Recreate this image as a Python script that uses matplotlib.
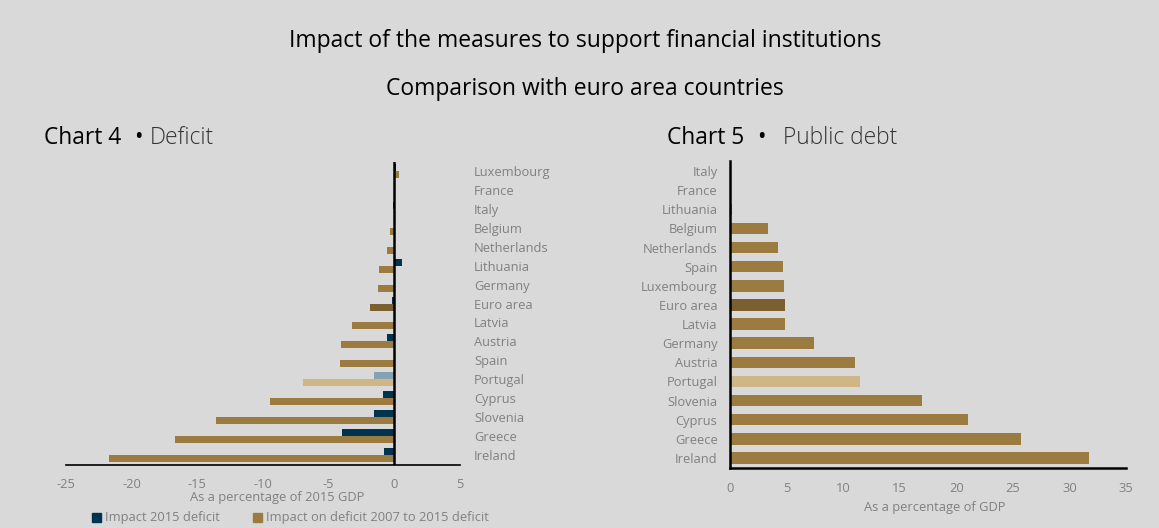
import matplotlib.pyplot as plt
import numpy as np

plt.rcParams['font.family'] = ['Open Sans', 'DejaVu Sans']
plt.rcParams['axes.unicode_minus'] = False

# Chart 4 - deficit (top to bottom)
deficit_countries = ["Luxembourg", "France", "Italy", "Belgium", "Netherlands", "Lithuania",
                     "Germany", "Euro area", "Latvia", "Austria", "Spain", "Portugal",
                     "Cyprus", "Slovenia", "Greece", "Ireland"]
impact_2015 = [0.1, 0.0, -0.1, 0.0, 0.05, 0.58, 0.0, -0.15, 0.0, -0.58, 0.0, -1.55,
               -0.86, -1.52, -4.01, -0.79]
impact_2007_2015 = [0.35, 0.0, 0.0, -0.35, -0.55, -1.17, -1.22, -1.85, -3.25, -4.04, -4.14,
                    -6.96, -9.45, -13.6, -16.7, -21.7]

# Chart 5 - public debt (top to bottom)
debt_countries = ["Italy", "France", "Lithuania", "Belgium", "Netherlands", "Spain",
                  "Luxembourg", "Euro area", "Latvia", "Germany", "Austria", "Portugal",
                  "Slovenia", "Cyprus", "Greece", "Ireland"]
debt_impact = [0.0, 0.1, 0.2, 3.32, 4.27, 4.7, 4.8, 4.88, 4.9, 7.41, 11.03, 11.5,
               16.97, 21.0, 25.7, 31.76]

bg = "#d9d9d9"
gold = "#9b7b40"
gold_dark = "#7a5f30"
gold_light = "#cfb686"
navy = "#00334f"
navy_light = "#86a2b0"
gray = "#808080"
fs = 9.3

fig = plt.figure(figsize=(11.59, 5.28), dpi=100, facecolor=bg)
W, H = 1159, 528


def axes_px(x0, y0, x1, y1):
    return fig.add_axes([x0 / W, 1 - y1 / H, (x1 - x0) / W, (y1 - y0) / H])


fig.text(585 / W, 1 - 41 / H, "Impact of the measures to support financial institutions",
         ha="center", va="center", fontsize=16.5, color="black")
fig.text(585 / W, 1 - 89 / H, "Comparison with euro area countries",
         ha="center", va="center", fontsize=16.5, color="black")

# ---- Chart 4 ----
ax1 = axes_px(66, 161.5, 460, 464.5)
ax1.set_facecolor(bg)
y = np.arange(len(deficit_countries))
h = 0.37
c_navy = [navy_light if c == "Portugal" else navy for c in deficit_countries]
c_gold = [gold_light if c == "Portugal" else (gold_dark if c == "Euro area" else gold)
          for c in deficit_countries]
ax1.barh(y - h / 2, impact_2015, height=h, color=c_navy)
ax1.barh(y + h / 2, impact_2007_2015, height=h, color=c_gold)
ax1.axvline(0, color="black", lw=1.8)
ax1.set_xlim(-25, 5)
ax1.set_ylim(len(y) - 0.5, -0.5)
ax1.set_xticks(range(-25, 6, 5))
ax1.set_yticks(y)
ax1.set_yticklabels(deficit_countries)
ax1.yaxis.tick_right()
ax1.tick_params(axis="y", length=0, pad=10, labelsize=fs, labelcolor=gray)
ax1.tick_params(axis="x", length=0, pad=9.5, labelsize=fs, labelcolor=gray)
for s in ["top", "right", "left"]:
    ax1.spines[s].set_visible(False)
ax1.spines["bottom"].set_color("black")
ax1.spines["bottom"].set_linewidth(1.2)

fig.text(277 / W, 1 - 497 / H, "As a percentage of 2015 GDP", ha="center", va="center",
         fontsize=fs, color=gray)
fig.patches.append(plt.Rectangle((92 / W, 1 - 522 / H), 9 / W, 9 / H, color=navy,
                                 transform=fig.transFigure))
fig.text(105 / W, 1 - 517 / H, "Impact 2015 deficit", ha="left", va="center",
         fontsize=fs, color=gray)
fig.patches.append(plt.Rectangle((253 / W, 1 - 522 / H), 9 / W, 9 / H, color=gold,
                                 transform=fig.transFigure))
fig.text(266 / W, 1 - 517 / H, "Impact on deficit 2007 to 2015 deficit", ha="left",
         va="center", fontsize=fs, color=gray)

fig.text(44 / W, 1 - 138 / H, "Chart 4", ha="left", va="center", fontsize=16.4, color="black")
fig.text(134 / W, 1 - 138 / H, "\u2022", ha="left", va="center", fontsize=16.4,
         color="black")
fig.text(150 / W, 1 - 138 / H, "Deficit", ha="left", va="center", fontsize=16.4,
         color="#333333", fontweight="light")

# ---- Chart 5 ----
ax2 = axes_px(730, 161.5, 1126, 467.5)
ax2.set_facecolor(bg)
y2 = np.arange(len(debt_countries))
c_debt = [gold_light if c == "Portugal" else (gold_dark if c == "Euro area" else gold)
          for c in debt_countries]
ax2.barh(y2, debt_impact, height=0.6, color=c_debt)
ax2.set_xlim(0, 35)
ax2.set_ylim(len(y2) - 0.5, -0.5)
ax2.set_xticks(range(0, 36, 5))
ax2.set_yticks(y2)
ax2.set_yticklabels(debt_countries)
ax2.tick_params(axis="y", length=0, pad=9, labelsize=fs, labelcolor=gray)
ax2.tick_params(axis="x", length=0, pad=10.5, labelsize=fs, labelcolor=gray)
for s in ["top", "right"]:
    ax2.spines[s].set_visible(False)
for s in ["left", "bottom"]:
    ax2.spines[s].set_color("black")
    ax2.spines[s].set_linewidth(1.8)
fig.text(935 / W, 1 - 508 / H, "As a percentage of GDP", ha="center", va="center",
         fontsize=fs, color=gray)

fig.text(667 / W, 1 - 138 / H, "Chart 5", ha="left", va="center", fontsize=16.4, color="black")
fig.text(757 / W, 1 - 138 / H, "\u2022", ha="left", va="center", fontsize=16.4,
         color="black")
fig.text(783 / W, 1 - 138 / H, "Public debt", ha="left", va="center", fontsize=16.4,
         color="#333333", fontweight="light")

fig.savefig("out.png", dpi=100, facecolor=bg)
